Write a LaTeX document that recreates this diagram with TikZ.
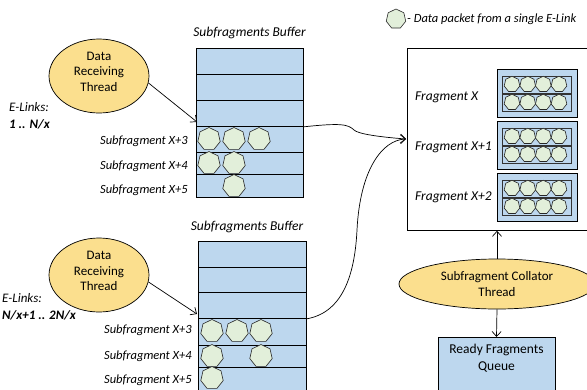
\documentclass[tikz,border=0pt]{standalone}
\usepackage{fontspec}
\setmainfont{Carlito}
\usetikzlibrary{shapes.geometric,arrows.meta}
\definecolor{bufblue}{RGB}{189,215,238}
\definecolor{pktgreen}{RGB}{226,239,218}
\definecolor{thyellow}{RGB}{251,223,142}
\begin{document}
\begin{tikzpicture}[x=1pt,y=-1pt,
  txt/.style={font=\fontsize{13}{15.5}\selectfont, inner sep=0pt, align=center},
  itxt/.style={font=\fontsize{12.5}{15}\selectfont\itshape, inner sep=0pt},
  thread/.style={ellipse, draw=black, line width=0.7pt, fill=thyellow, inner sep=0pt},
  bufrow/.style={rectangle, draw=black, line width=0.8pt, fill=bufblue, inner sep=0pt, anchor=north west},
  pkt/.style={regular polygon, regular polygon sides=7, draw=black!85, line width=0.6pt, fill=pktgreen, inner sep=0pt, minimum size=23pt},
  spkt/.style={pkt, minimum size=16pt},
  fblock/.style={rectangle, draw=black, line width=0.8pt, fill=bufblue, inner sep=0pt, anchor=north west, minimum width=80pt, minimum height=48pt},
  frow/.style={rectangle, draw=black!80, line width=0.7pt, fill=bufblue, inner sep=0pt, anchor=north west, minimum width=69pt, minimum height=16.5pt},
  arr/.style={-{Straight Barb[length=5pt,width=9pt]}, line width=0.7pt},
]
\useasboundingbox (0,0) rectangle (587,389);

% legend
\node[pkt, minimum size=20pt] (legpkt) at (396,19) {};
\node[itxt, anchor=west] (legtxt) at (407,19) {- Data packet from a single E-Link};

% ---------- top group ----------
\node[thread, minimum width=100pt, minimum height=74pt] (thrA) at (99,76) {};
\node[txt] (thrAtxt) at (99,71.5) {Data\\Receiving\\Thread};
\node[itxt, anchor=west, font=\fontsize{13}{15}\selectfont\itshape] (elA1) at (9,107) {E-Links:};
\node[itxt, anchor=west, font=\fontsize{13}{15}\selectfont\itshape\bfseries] (elA2) at (9,124) {1 .. N/x};
\node[itxt, font=\fontsize{13.5}{15}\selectfont\itshape] (bufAlbl) at (249.5,33) {Subfragments Buffer};

\foreach \n/\t/\h in {1/48/26, 2/74/26, 3/100/26, 4/126/26, 5/152/22, 6/174/23}
  \node[bufrow, minimum width=107pt, minimum height=\h pt] (bufA\n) at (196,\t) {};

\node[itxt, anchor=east] (sA3) at (188,141) {Subfragment X+3};
\node[itxt, anchor=east] (sA4) at (188,166) {Subfragment X+4};
\node[itxt, anchor=east] (sA5) at (188,190) {Subfragment X+5};

\node[pkt] (pA41) at (209,139) {};
\node[pkt] (pA42) at (234,139) {};
\node[pkt] (pA43) at (259,139) {};
\node[pkt] (pA51) at (209,163) {};
\node[pkt] (pA52) at (234,163) {};
\node[pkt] (pA61) at (234,186) {};

\coordinate (bufAin) at (197,122);
\draw[arr] (thrA.-8) -- (bufAin);

% ---------- bottom group ----------
\node[thread, minimum width=100pt, minimum height=74pt] (thrB) at (99,275) {};
\node[txt] (thrBtxt) at (99,271) {Data\\Receiving\\Thread};
\node[itxt, anchor=west, font=\fontsize{13}{15}\selectfont\itshape] (elB1) at (2,298) {E-Links:};
\node[itxt, anchor=west, font=\fontsize{13}{15}\selectfont\itshape\bfseries] (elB2) at (2,315) {N/x+1 .. 2N/x};
\node[itxt, font=\fontsize{13.5}{15}\selectfont\itshape] (bufBlbl) at (247,227) {Subfragments Buffer};

\foreach \n/\t/\h in {1/241/26, 2/267/25, 3/292/26, 4/318/27, 5/345/22, 6/367/30}
  \node[bufrow, minimum width=108pt, minimum height=\h pt] (bufB\n) at (198,\t) {};

\node[itxt, anchor=east] (sB3) at (192,330) {Subfragment X+3};
\node[itxt, anchor=east] (sB4) at (192,356) {Subfragment X+4};
\node[itxt, anchor=east] (sB5) at (192,380) {Subfragment X+5};

\node[pkt] (pB41) at (212,331) {};
\node[pkt] (pB42) at (237,331) {};
\node[pkt] (pB43) at (261,331) {};
\node[pkt] (pB51) at (212,356) {};
\node[pkt] (pB52) at (261,356) {};
\node[pkt] (pB61) at (212,378) {};

\coordinate (bufBin) at (197,314);
\draw[arr] (thrB.-8) -- (bufBin);

% ---------- fragments box ----------
\node[rectangle, draw=black, line width=0.8pt, fill=white, anchor=north west, minimum width=200pt, minimum height=182pt, inner sep=0pt] (fbox) at (407,48) {};
\coordinate (fragin) at (406,139);

\node[itxt, anchor=west, font=\fontsize{13.5}{15}\selectfont\itshape] (fl1) at (415,97) {Fragment X};
\node[itxt, anchor=west, font=\fontsize{13.5}{15}\selectfont\itshape] (fl2) at (415,147) {Fragment X+1};
\node[itxt, anchor=west, font=\fontsize{13.5}{15}\selectfont\itshape] (fl3) at (415,197) {Fragment X+2};

\foreach \b/\t in {1/69, 2/121, 3/173} {
  \node[fblock] (fb\b) at (497,\t) {};
  \foreach \r/\o in {1/7, 2/25} {
    \node[frow] (fb\b r\r) at (502,\t+\o) {};
    \foreach \c/\x in {1/512, 2/527.7, 3/543.3, 4/559}
      \node[spkt] (fb\b r\r c\c) at (\x,\t+\o+8.25) {};
  }
}

% curved connectors
\draw[arr] (bufA3.south east) .. controls (340,123) and (348,124) .. (354,130) .. controls (358,134) and (380,137) .. (fragin);
\draw[arr] (bufB3.south east) .. controls (345,312) and (355,270) .. (357,230) .. controls (360,170) and (382,140) .. (fragin);

% ---------- collator & queue ----------
\node[thread, minimum width=196pt, minimum height=50pt, align=center, font=\fontsize{13}{16.5}\selectfont] (coll) at (497,284) {Subfragment Collator\\Thread};
\node[rectangle, draw=black, line width=0.8pt, fill=bufblue, anchor=north, minimum width=117pt, minimum height=60pt, inner sep=0pt] (queue) at (496.5,337) {};
\node[txt, font=\fontsize{13.5}{17.5}\selectfont] (queuetxt) at (496.5,358) {Ready Fragments\\Queue};

\draw[arr] (coll.north) -- (coll.north |- fbox.south);
\draw[arr] (coll.south) -- (queue.north);
\end{tikzpicture}
\end{document}
